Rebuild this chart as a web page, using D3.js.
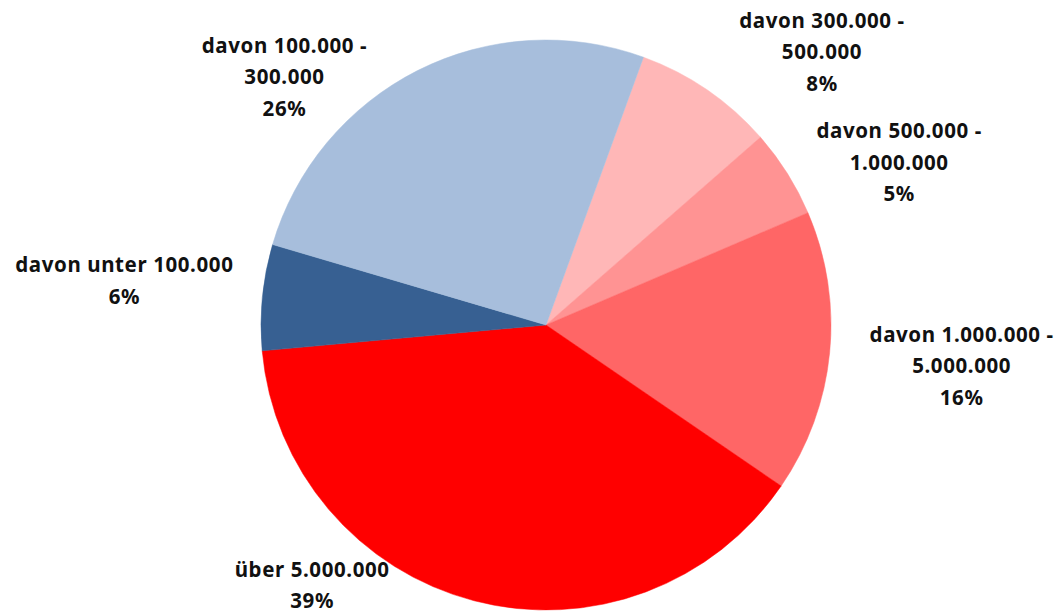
<!DOCTYPE html>
<html>
<head>
<meta charset="utf-8">
<script src="https://cdn.jsdelivr.net/npm/d3@7"></script>
<style>
    body { margin: 0; background: #fff; }
    svg { display: block; }
    .label { font-family: "Noto Sans", "Open Sans", sans-serif; font-weight: bold; font-size: 20.5px; letter-spacing: 0.6px; fill: #111; }
</style>
</head>
<body>
<div id="chart"></div>
<script>
// slices in drawing order (clockwise, first one starts at ~20 deg)
var labels = [
    ["davon 300.000 -", "500.000"],
    ["davon 500.000 -", "1.000.000"],
    ["davon 1.000.000 -", "5.000.000"],
    ["über 5.000.000"],
    ["davon unter 100.000"],
    ["davon 100.000 -", "300.000"]
];
var values = [8, 5, 16, 39, 6, 26];
var percentLabels = ["8%", "5%", "16%", "39%", "6%", "26%"];
var colors = ["#FFB7B7", "#FF9393", "#FF6666", "#FF0000", "#376092", "#A7BEDC"];

// label nudges from the outer edge point of each slice (first text line baseline)
var labelOffsets = [[115, -62], [112, -35], [132, -11], [-162, -24], [-138, -25], [-133, -18]];

var fullWidth = 1058;
var fullHeight = 611;
var cx = 546, cy = 325, radius = 285;
var lineHeight = 31.5;
var startDeg = 20;

var data = values.map(function (v, i) {
    return { value: v, lines: labels[i].concat([percentLabels[i]]), color: colors[i], off: labelOffsets[i] };
});

var pie = d3.pie()
    .value(function (d) { return d.value; })
    .sort(null)
    .startAngle(startDeg * Math.PI / 180)
    .endAngle((startDeg + 360) * Math.PI / 180);

var arc = d3.arc().innerRadius(0).outerRadius(radius);
var edgeArc = d3.arc().innerRadius(radius).outerRadius(radius);

var svg = d3.select("#chart").append("svg")
    .attr("width", fullWidth)
    .attr("height", fullHeight);

var chartGroup = svg.append("g")
    .attr("transform", "translate(" + cx + "," + cy + ")");

var arcs = pie(data);

chartGroup.selectAll("path.slice")
    .data(arcs)
    .enter().append("path")
    .attr("class", "slice")
    .attr("d", arc)
    .style("fill", function (d) { return d.data.color; })
    .style("stroke", function (d) { return d.data.color; })
    .style("stroke-width", 0.5);

var labelGroups = chartGroup.selectAll("text.label")
    .data(arcs)
    .enter().append("text")
    .attr("class", "label")
    .attr("text-anchor", "middle")
    .attr("transform", function (d) {
        var p = edgeArc.centroid(d);
        return "translate(" + (p[0] + d.data.off[0]) + "," + (p[1] + d.data.off[1]) + ")";
    });

labelGroups.selectAll("tspan")
    .data(function (d) { return d.data.lines; })
    .enter().append("tspan")
    .attr("x", 0)
    .attr("y", function (d, i) { return i * lineHeight; })
    .text(function (d) { return d; });
</script>
</body>
</html>
